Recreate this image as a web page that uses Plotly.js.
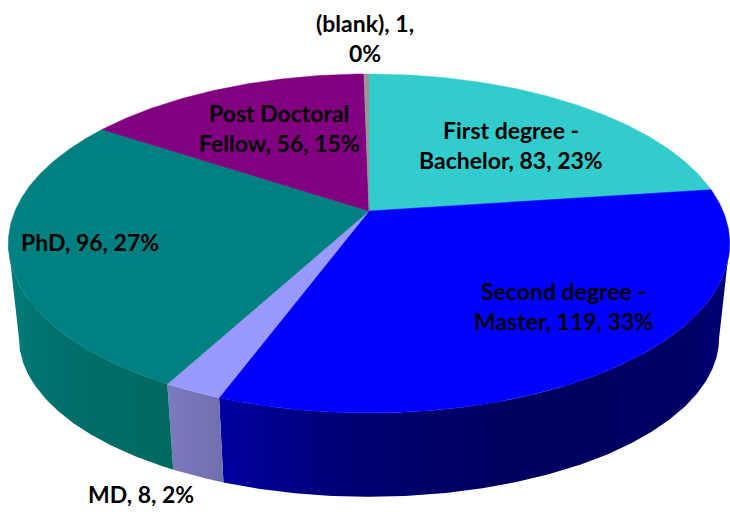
<!DOCTYPE html>
<html>
<head>
<meta charset="utf-8">
<script src="https://cdn.plot.ly/plotly-3.0.1.min.js"></script>
<style>html,body{margin:0;padding:0;background:#fff}#chart{width:730px;height:512px}</style>
</head>
<body>
<div id="chart"></div>
<script>
// Data, clockwise from 12 o'clock
const categories = ["First degree - Bachelor", "Second degree - Master", "MD", "PhD", "Post Doctoral Fellow", "(blank)"];
const values = [83, 119, 8, 96, 56, 1];
const percents = [23, 33, 2, 27, 15, 0];
const topColors = ["#33CCCC", "#0000FF", "#9999FF", "#008080", "#800080", "#969696"];
const wallStops = [
  null,
  [[0, "#0000A0"], [0.25, "#000074"], [0.55, "#000060"], [0.9, "#000062"], [1, "#000078"]],
  [[0, "#7A7ABE"], [1, "#7070B0"]],
  [[0, "#007C7A"], [0.35, "#006E6B"], [1, "#00695F"]],
  null, null
];
// First-line / second-line split of each data label
const labelLines = [
  ["First degree -", "Bachelor, 83, 23%"],
  ["Second degree -", "Master, 119, 33%"],
  ["MD, 8, 2%"],
  ["PhD, 96, 27%"],
  ["Post Doctoral", "Fellow, 56, 15%"],
  ["(blank), 1,", "0%"]
];
const labelX = [511, 563, 141, 90, 279, 365];
const labelY = [130, 291, 494, 242, 113, 23];
const lineGap = 30;

// Perspective disc geometry (pixel-space axes)
const CX = 369, TOP_Y = 211, TOP_RX = 354, TOP_RY = 163.3, K = 0.1917;
const BOT_Y = 307.5, BOT_RX = 343.6, BOT_RY = 153;

function project(theta, y0, rx, ry) {
  const u = Math.sin(theta), v = Math.cos(theta), w = 1 + K * v;
  return [CX + rx * u / w, y0 - ry * v / w];
}
const total = values.reduce((a, b) => a + b, 0);
const traces = [];
let acc = 0;
const spans = values.map(v => { const s = [acc, acc + v]; acc += v; return s.map(a => a / total * 2 * Math.PI); });

function arc(a, b, y0, rx, ry) {
  const n = Math.max(2, Math.ceil((b - a) / 0.01)), pts = [];
  for (let i = 0; i <= n; i++) pts.push(project(a + (b - a) * i / n, y0, rx, ry));
  return pts;
}

// Side walls, only for the slices seen from the front, cut at the disc's silhouette
const VIS_A = Math.acos(-K), VIS_B = 2 * Math.PI - VIS_A;
values.forEach((v, i) => {
  if (!wallStops[i]) return;
  const a = Math.max(spans[i][0], VIS_A), b = Math.min(spans[i][1], VIS_B);
  const top = arc(a, b, TOP_Y, TOP_RX, TOP_RY);
  const bot = arc(a, b, BOT_Y, BOT_RX, BOT_RY).reverse();
  const pts = top.concat(bot);
  pts.push(pts[0]);
  traces.push({
    type: "scatter", mode: "lines", hoverinfo: "skip", showlegend: false,
    x: pts.map(p => p[0]), y: pts.map(p => p[1]),
    line: {width: 0, color: wallStops[i][0][1]}, fill: "toself",
    fillgradient: {type: "horizontal", colorscale: wallStops[i]}
  });
});
// Top faces
values.forEach((v, i) => {
  const [a, b] = spans[i];
  const pts = [[CX, TOP_Y]].concat(arc(a, b, TOP_Y, TOP_RX, TOP_RY));
  pts.push([CX, TOP_Y]);
  traces.push({
    type: "scatter", mode: "lines", hoverinfo: "skip", showlegend: false, name: categories[i],
    x: pts.map(p => p[0]), y: pts.map(p => p[1]),
    line: {width: 0.5, color: topColors[i]}, fill: "toself", fillcolor: topColors[i]
  });
});

const annotations = [];
labelLines.forEach((lines, i) => {
  lines.forEach((t, j) => annotations.push({
    x: labelX[i], y: labelY[i] + j * lineGap, xref: "x", yref: "y",
    text: t, showarrow: false, xanchor: "center", yanchor: "middle",
    font: {family: "Lato, Carlito, sans-serif", size: 23, color: "#000", weight: 700}
  }));
});

Plotly.newPlot("chart", traces, {
  width: 730, height: 512, margin: {l: 0, r: 0, t: 0, b: 0},
  paper_bgcolor: "#fff", plot_bgcolor: "#fff", showlegend: false,
  xaxis: {range: [0, 730], visible: false, fixedrange: true},
  yaxis: {range: [512, 0], visible: false, fixedrange: true},
  annotations
}, {staticPlot: true, displayModeBar: false});
</script>
</body>
</html>
